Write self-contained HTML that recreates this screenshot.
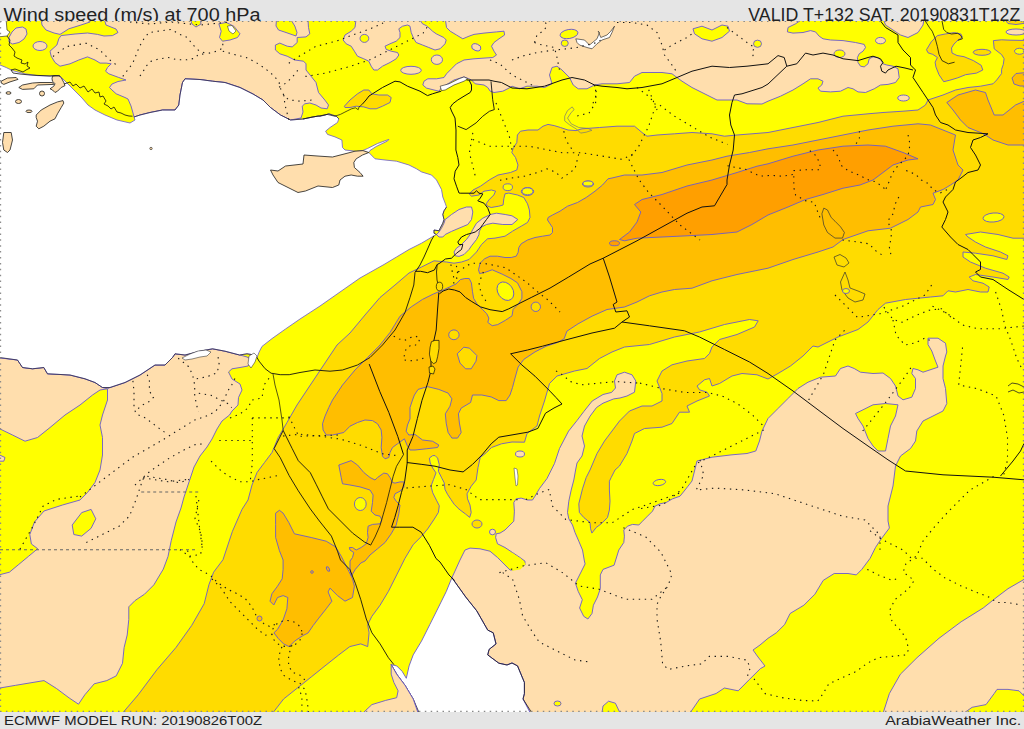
<!DOCTYPE html>
<html><head><meta charset="utf-8"><style>
html,body{margin:0;padding:0;background:#e5e5e5;}
body{width:1024px;height:729px;overflow:hidden;position:relative;font-family:"Liberation Sans",sans-serif;}
.t{position:absolute;color:#222;white-space:nowrap;}
svg{position:absolute;left:0;top:0;}
</style></head><body>
<svg width="1024" height="729" viewBox="0 0 1024 729">
<g font-family="Liberation Sans, sans-serif" fill="#222">
<text x="3.5" y="20.5" font-size="17.5" textLength="257" lengthAdjust="spacingAndGlyphs">Wind speed (m/s) at 700 hPa</text>
<text x="748.3" y="20.5" font-size="17.5" textLength="272" lengthAdjust="spacingAndGlyphs">VALID T+132 SAT. 20190831T12Z</text>
<text x="4" y="724.8" font-size="13.3" textLength="258" lengthAdjust="spacingAndGlyphs">ECMWF MODEL RUN: 20190826T00Z</text>
<text x="885.2" y="724.8" font-size="13.3" textLength="136" lengthAdjust="spacingAndGlyphs">ArabiaWeather Inc.</text>
</g>
<defs><clipPath id="m"><rect x="0" y="21" width="1024" height="691"/></clipPath></defs>
<g clip-path="url(#m)" stroke-linejoin="round">
<rect x="0" y="21" width="1024" height="691" fill="#ffff00"/>
<polygon points="104.0,18.0 276.6,18.0 276.0,26.0 278.5,30.0 286.0,32.5 296.0,36.0 297.0,32.5 294.8,26.0 289.8,18.0 307.9,18.0 308.5,27.5 309.8,33.8 306.0,36.9 297.2,37.5 297.2,42.5 292.2,46.9 287.2,46.2 279.8,43.1 275.4,45.0 275.4,50.0 279.8,53.8 287.2,56.2 294.8,60.0 303.5,61.2 306.0,63.8 306.0,70.0 311.0,76.2 316.0,82.5 318.5,92.5 324.8,100.0 328.5,105.0 327.2,108.8 321.0,108.0 316.0,105.0 309.8,103.0 304.8,103.8 302.2,106.2 303.0,112.0 301.0,118.0 290.5,120.0 280.5,115.0 270.5,107.5 263.0,100.0 253.0,94.0 240.0,87.5 225.0,82.5 212.5,81.2 200.0,79.5 185.0,78.8 182.5,82.5 180.0,95.0 178.8,105.0 175.0,110.0 162.5,110.0 150.0,112.5 140.0,115.0 134.0,117.0 133.0,113.0 131.0,106.0 128.0,99.0 125.0,97.5 116.2,93.8 112.0,90.0 109.5,87.5 112.0,84.0 118.0,81.5 126.0,80.0 118.8,77.5 108.8,73.8 105.6,71.2 107.5,67.5 111.2,63.8 106.2,63.1 100.0,63.1 95.0,60.0 87.5,56.9 78.8,60.0 70.0,63.8 60.0,66.2 55.0,62.5 51.2,56.2 50.0,51.2 56.9,45.0 58.8,38.8 61.0,35.6 75.0,34.0 87.5,33.0 97.5,34.4 104.0,36.0 112.5,35.6 118.0,32.5 116.0,29.0 106.0,25.0" fill="#ffdead" stroke="#6a5acd" stroke-width="0.9"/>
<polygon points="41.0,18.0 42.0,25.0 46.0,30.0 54.0,33.0 60.0,34.4 68.8,28.8 81.0,25.0 90.0,22.0 90.0,18.0" fill="#ffdead" stroke="#6a5acd" stroke-width="0.9"/>
<polygon points="12.0,32.0 16.0,28.0 22.5,27.0 26.0,29.0 27.0,34.0 24.0,39.0 19.0,42.5 12.5,44.0 9.0,42.0 9.0,37.5" fill="#ffdead" stroke="#6a5acd" stroke-width="0.9"/>
<ellipse cx="40" cy="46" rx="7" ry="4.5" fill="#ffdead" stroke="#6a5acd" stroke-width="0.9"/>
<polygon points="356.2,18.0 355.0,27.5 351.2,31.2 345.0,35.0 343.1,40.0 346.2,43.8 351.2,46.2 354.4,51.2 357.5,56.2 363.8,58.8 368.8,61.2 371.2,66.2 373.8,70.0 377.5,70.0 382.5,66.2 390.0,62.5 396.2,58.8 398.8,55.0 397.5,52.5 391.2,51.2 386.2,49.4 385.0,46.2 390.0,43.8 396.2,41.2 400.0,37.5 400.0,32.5 398.8,28.8 402.5,26.2 407.5,25.0 410.0,26.2 411.2,32.5 413.8,38.8 416.2,42.5 422.5,45.0 428.8,47.5 435.0,50.0 440.0,48.8 445.0,43.8 446.2,40.0 443.8,37.5 436.2,33.8 432.5,31.2 430.0,28.8 426.2,25.6 422.5,23.8 418.8,18.0" fill="#ffdead" stroke="#6a5acd" stroke-width="0.9"/>
<ellipse cx="364.4" cy="38.4" rx="4.4" ry="4" fill="#ffff00" stroke="#6a5acd" stroke-width="0.9"/>
<ellipse cx="436.9" cy="59.7" rx="5.6" ry="4.7" fill="#ffdead" stroke="#6a5acd" stroke-width="0.9"/>
<ellipse cx="411" cy="70.3" rx="10.3" ry="4" fill="#ffdead" stroke="#6a5acd" stroke-width="0.9"/>
<polygon points="445.2,18.0 446.5,27.5 450.2,31.2 456.5,35.0 462.8,38.8 469.0,36.2 474.0,34.4 484.0,33.1 496.5,31.9 504.0,31.2 504.6,35.0 499.0,38.8 494.0,42.5 491.5,46.2 494.0,51.2 496.5,55.0 492.8,57.5 484.0,58.1 474.0,58.8 464.0,60.0 456.5,63.8 451.5,68.8 446.5,73.8 444.0,77.5 436.5,78.8 427.8,78.8 424.0,81.2 422.8,85.0 426.5,88.1 434.0,90.0 439.0,91.2 441.5,87.5 444.0,86.2 454.0,80.0 464.0,76.9 469.0,78.8 471.5,80.0 475.2,83.8 484.0,85.0 487.8,87.5 490.2,91.2 494.0,92.5 502.8,91.2 509.0,88.1 512.0,86.2 519.5,88.8 527.0,86.2 537.0,86.2 544.5,87.5 552.0,83.8 549.5,75.0 552.0,67.5 557.0,66.2 562.0,70.0 569.5,77.5 573.2,85.0 578.2,88.8 587.0,88.8 594.5,85.0 602.0,83.8 617.0,83.8 629.5,82.5 634.5,76.2 642.0,72.5 662.0,72.5 672.0,73.8 682.0,81.2 692.0,87.5 707.0,95.0 717.0,100.0 727.0,100.0 737.0,100.0 747.0,103.8 762.0,104.0 768.0,101.2 780.5,96.2 793.0,90.0 803.0,83.8 810.5,78.8 818.0,78.8 823.0,81.2 821.8,85.0 818.0,88.1 820.5,91.2 830.5,91.9 840.5,91.2 848.0,87.5 853.0,88.8 858.0,91.9 865.5,92.5 874.2,88.8 880.5,85.0 888.0,84.4 895.5,82.5 899.2,77.5 898.0,68.8 893.0,66.2 886.8,65.0 883.0,63.8 881.8,61.2 878.0,57.5 873.0,56.9 869.2,58.8 868.0,63.8 864.2,66.9 860.5,66.2 858.0,62.5 857.4,57.5 859.2,53.8 863.0,51.2 865.5,47.5 864.2,44.4 855.5,42.5 843.0,40.6 830.5,40.0 823.0,38.8 819.2,36.2 815.5,31.9 810.5,30.6 803.0,32.5 793.0,33.1 787.4,31.9 788.0,27.5 795.5,23.8 804.2,18.0" fill="#ffdead" stroke="#6a5acd" stroke-width="0.9"/>
<ellipse cx="569" cy="34" rx="9" ry="4.5" fill="#ffff00" stroke="#6a5acd" stroke-width="0.9" transform="rotate(-10 569 34)"/>
<polygon points="693.0,28.8 702.0,26.2 712.0,30.0 722.0,25.0 728.0,26.2 729.5,31.2 722.0,37.5 712.0,41.2 702.0,38.8 694.5,33.8" fill="#ffff00" stroke="#6a5acd" stroke-width="0.9"/>
<ellipse cx="564.75" cy="43.25" rx="3.5" ry="3.2" fill="#ffff00" stroke="#6a5acd" stroke-width="0.9"/>
<ellipse cx="757.5" cy="43.75" rx="4" ry="3.6" fill="#ffff00" stroke="#6a5acd" stroke-width="0.9"/>
<ellipse cx="839.5" cy="53.75" rx="5.5" ry="3.75" fill="#ffff00" stroke="#6a5acd" stroke-width="0.9"/>
<ellipse cx="476.25" cy="47.3" rx="4.75" ry="3.3" fill="#ffdead" stroke="#6a5acd" stroke-width="0.9" transform="rotate(20 476.25 47.3)"/>
<ellipse cx="880.5" cy="40.6" rx="5" ry="3.2" fill="#ffdead" stroke="#6a5acd" stroke-width="0.9"/>
<polygon points="883.0,18.0 885.5,25.0 893.0,30.0 900.5,35.0 908.0,37.5 918.0,32.5 923.0,25.0 924.2,18.0" fill="#ffdead" stroke="#6a5acd" stroke-width="0.9"/>
<ellipse cx="1016" cy="32" rx="10" ry="3" fill="#ffdead" stroke="#6a5acd" stroke-width="0.9"/>
<polygon points="445.2,219.5 451.5,214.5 459.0,209.5 466.5,207.0 471.5,207.0 472.8,212.0 471.5,219.5 467.8,224.5 459.0,228.2 451.5,231.4 445.2,234.5 442.8,237.0 439.0,237.0 436.5,234.5 439.0,232.0 441.5,228.2 444.0,223.2" fill="#ffdead" stroke="#6a5acd" stroke-width="0.9"/>
<polygon points="490.2,214.5 496.5,213.2 505.2,214.5 512.0,215.8 517.8,219.5 512.0,224.5 502.8,224.5 492.8,223.2 486.5,224.5 481.5,227.0 479.0,232.0 479.0,234.5 476.5,239.5 471.5,245.8 469.0,249.5 464.0,254.5 459.0,256.4 455.2,255.8 454.0,252.0 456.5,248.2 461.5,244.5 466.5,239.5 470.2,234.5 472.8,229.5 476.5,223.2 482.8,218.2" fill="#ffdead" stroke="#6a5acd" stroke-width="0.9"/>
<polygon points="-3.0,357.5 17.5,360.0 22.5,367.5 32.5,368.8 43.8,367.5 47.5,373.8 70.0,375.0 85.0,378.8 95.0,382.5 102.5,387.5 107.5,388.8 100.0,390.0 92.5,395.0 80.0,405.0 65.0,415.0 50.0,427.5 37.5,437.5 25.0,441.2 12.5,435.0 -3.0,427.5" fill="#ffdead" stroke="#6a5acd" stroke-width="0.9"/>
<polygon points="-3.0,453.8 5.0,457.5 3.8,461.2 -3.0,461.2" fill="#ffdead" stroke="#6a5acd" stroke-width="0.9"/>
<polygon points="107.5,388.8 110.0,387.5 125.0,382.5 140.0,375.0 155.0,365.0 165.0,365.0 172.5,357.5 175.0,353.8 185.0,355.0 200.0,351.2 212.5,348.8 225.0,351.2 240.0,355.0 247.0,357.0 252.0,360.0 248.0,366.0 240.0,367.5 232.0,368.8 228.5,372.0 232.0,379.0 240.0,384.0 242.0,390.0 238.5,397.5 238.0,405.0 232.0,411.0 229.5,415.0 222.0,421.0 217.0,429.0 212.0,439.0 207.0,447.0 200.0,456.0 194.0,467.0 189.0,482.0 184.0,497.0 181.0,508.0 176.0,522.0 171.2,540.8 168.0,556.5 163.3,569.1 153.9,584.8 144.5,594.2 135.1,600.5 128.8,606.8 128.8,619.4 127.2,635.0 124.1,647.6 122.5,663.3 116.2,675.9 106.8,680.6 94.2,683.8 84.8,694.8 78.5,704.2 69.1,697.9 56.5,688.5 44.0,680.6 15.7,685.3 -3.0,688.5 -3.0,575.4 9.4,572.2 18.8,564.4 28.3,556.5 37.7,548.7 31.4,544.0 29.8,534.5 34.5,522.0 44.0,511.0 62.5,505.0 80.0,500.0 87.5,492.5 95.0,482.5 100.0,470.0 102.5,455.0 102.5,437.5 100.0,425.0 102.5,415.0 107.5,400.0" fill="#ffdead" stroke="#6a5acd" stroke-width="0.9"/>
<polygon points="72.2,525.0 81.7,512.6 91.1,509.4 95.8,518.8 91.1,528.3 81.7,536.1 73.8,534.5" fill="#ffff00" stroke="#6a5acd" stroke-width="0.9"/>
<polygon points="617.0,374.8 624.5,372.2 632.0,374.8 635.8,381.0 634.5,392.2 627.0,396.0 620.0,398.0 613.7,398.9 603.0,403.2 596.5,407.5 590.1,416.1 584.5,426.0 582.0,436.0 584.5,446.0 582.0,456.0 577.0,463.0 575.6,470.0 573.8,480.0 571.2,490.0 568.8,501.2 567.5,512.5 568.8,518.8 572.5,525.0 575.0,532.5 578.8,541.2 582.5,550.0 584.4,561.0 585.1,563.9 581.0,572.1 575.4,583.2 578.2,591.4 582.3,599.7 579.6,608.0 583.7,616.3 587.9,619.0 592.0,613.5 593.4,605.2 597.5,597.0 600.3,588.7 600.3,574.9 603.0,569.4 614.1,565.2 618.8,550.0 623.8,542.5 624.4,536.2 623.8,530.0 627.5,526.2 632.5,524.4 638.8,525.0 642.5,521.2 647.5,516.2 652.5,511.2 655.0,506.2 660.0,503.8 666.2,502.5 672.5,498.8 680.0,496.2 685.0,490.0 688.0,486.2 692.0,481.0 694.5,471.0 697.0,461.0 712.0,457.2 732.0,454.8 747.0,453.5 755.8,451.0 759.5,441.0 762.0,431.0 768.0,418.5 778.0,408.5 788.0,398.5 798.0,388.5 808.0,382.2 820.5,377.2 835.5,376.0 840.5,368.5 848.0,366.0 854.2,368.5 860.5,372.2 873.0,373.5 883.0,373.0 890.5,378.5 895.5,386.0 898.0,396.0 903.0,399.8 911.8,397.2 915.5,388.5 915.5,378.5 911.8,373.5 913.0,368.5 918.0,369.8 923.0,372.2 938.0,367.2 935.5,361.0 931.8,351.0 928.0,344.5 928.0,338.2 938.0,338.2 945.5,343.2 946.8,352.0 945.5,356.0 943.0,366.0 943.0,378.5 945.5,388.5 946.8,403.5 943.0,411.0 933.0,416.0 923.0,421.0 916.8,431.0 915.5,441.0 910.5,448.5 900.5,456.0 895.5,466.0 893.0,486.0 888.0,506.0 888.0,521.0 889.4,528.0 881.1,539.0 875.6,547.3 870.1,558.3 861.8,569.4 856.3,574.9 848.0,573.5 834.2,573.5 823.2,580.4 814.9,594.2 803.9,605.2 790.1,613.5 784.6,624.6 776.3,632.8 768.0,638.3 760.0,645.0 753.0,650.0 758.0,657.0 765.0,666.0 760.3,668.7 749.2,679.7 738.2,690.8 724.4,688.0 716.1,693.5 699.6,699.0 688.6,715.0 531.3,715.0 523.0,699.0 524.4,693.5 524.4,682.5 517.5,665.9 512.0,663.0 507.0,665.0 498.8,663.2 487.7,654.9 489.1,649.4 496.0,643.9 493.2,632.8 487.7,630.1 476.7,610.8 465.7,597.0 451.9,577.7 455.0,571.0 460.0,560.0 465.0,550.0 470.0,548.1 480.0,548.8 490.0,551.2 497.5,557.5 505.0,565.0 510.0,570.0 512.5,570.0 520.0,567.5 525.0,565.0 525.0,561.2 520.0,557.5 512.5,552.5 505.0,547.5 497.5,543.8 495.6,537.5 496.2,533.8 500.0,533.1 505.0,530.0 510.0,525.0 513.8,521.2 514.4,511.2 513.8,502.5 516.2,498.8 521.2,498.1 527.5,500.0 532.5,500.0 535.0,496.2 539.5,488.5 547.0,478.5 554.5,463.5 559.5,448.5 568.6,431.1 577.2,420.3 583.7,411.7 592.2,401.0 603.0,394.5 611.6,392.4 615.5,388.0 614.5,381.0" fill="#ffdead" stroke="#6a5acd" stroke-width="0.9"/>
<polygon points="855.5,413.5 863.0,409.8 873.0,404.8 885.5,403.5 898.0,404.8 895.5,416.0 890.5,426.0 888.0,438.5 885.5,451.0 878.0,451.0 873.0,446.0 868.0,438.5 863.0,426.0 858.0,418.5" fill="#ffff00" stroke="#6a5acd" stroke-width="0.9"/>
<ellipse cx="659.4" cy="482.5" rx="6.3" ry="3" fill="#ffff00" stroke="#6a5acd" stroke-width="0.9" transform="rotate(-10 659.4 482.5)"/>
<ellipse cx="492.5" cy="532" rx="3" ry="2.8" fill="#ffdead" stroke="#6a5acd" stroke-width="0.9"/>
<polygon points="882.5,715.0 889.4,693.5 900.4,674.2 917.0,657.7 939.0,638.3 961.1,621.8 983.2,608.0 997.0,597.0 1008.0,588.7 1027.0,577.7 1027.0,715.0" fill="#ffdead" stroke="#6a5acd" stroke-width="0.9"/>
<polygon points="961.1,715.0 972.1,707.3 986.0,704.6 994.2,693.5 997.0,689.4 1008.0,689.4 1019.0,690.8 1027.0,699.0 1027.0,715.0" fill="#ffff00" stroke="#6a5acd" stroke-width="0.9"/>
<polygon points="601.7,715.0 603.0,706.0 608.6,701.2 615.4,703.2 621.0,715.0" fill="#ffff00" stroke="#6a5acd" stroke-width="0.9"/>
<ellipse cx="557.5" cy="703.5" rx="3.5" ry="2.5" fill="#ffff00" stroke="#6a5acd" stroke-width="0.9"/>
<polygon points="512.0,552.8 520.3,558.3 525.8,563.9 520.3,569.4 512.0,570.8" fill="#ffff00" stroke="none" stroke-width="0"/>
<polygon points="-3.0,63.8 6.2,67.5 12.5,70.6 25.0,73.8 37.5,75.6 50.0,76.0 55.0,75.6 60.0,76.0 66.0,82.0 75.0,91.0 82.0,98.0 88.0,105.0 95.0,110.0 105.0,115.0 117.0,120.0 130.0,123.0 135.0,120.0 134.0,117.0 140.0,115.0 150.0,112.5 162.5,110.0 175.0,110.0 178.8,105.0 180.0,95.0 182.5,82.5 185.0,78.8 200.0,79.5 212.5,81.2 225.0,82.5 240.0,87.5 253.0,94.0 263.0,100.0 270.5,107.5 280.5,115.0 290.5,120.0 303.0,119.0 318.0,116.0 320.0,116.2 325.0,115.0 328.8,113.8 332.5,115.0 336.2,116.2 338.8,118.8 337.5,122.5 330.0,127.5 325.6,131.2 327.5,134.4 335.0,136.9 341.9,140.0 342.5,147.5 345.0,150.0 356.2,151.2 362.5,150.6 367.5,148.5 377.5,143.5 388.8,139.4 387.5,141.0 376.2,146.5 370.0,150.5 368.8,152.5 375.0,158.8 385.0,160.0 396.5,161.2 409.0,165.0 416.5,168.8 421.5,171.9 431.5,175.0 436.5,180.0 441.5,189.5 442.8,197.0 445.2,203.2 446.5,207.0 444.0,210.8 442.8,214.5 444.0,219.5 442.8,223.2 440.2,228.2 439.0,230.8 434.0,230.0 434.0,233.2 436.5,234.5 434.0,235.8 421.5,243.2 409.0,249.5 396.5,257.0 384.0,264.5 360.0,278.0 340.0,292.0 320.0,306.0 300.0,319.0 285.5,329.0 272.0,338.6 262.0,346.4 259.0,352.3 257.0,357.5 254.5,355.0 247.0,353.8 239.5,355.0 225.0,351.2 212.5,348.8 200.0,351.2 185.0,355.0 175.0,353.8 172.5,357.5 165.0,365.0 155.0,365.0 140.0,375.0 125.0,382.5 110.0,387.5 102.5,387.5 95.0,382.5 85.0,378.8 70.0,375.0 47.5,373.8 43.8,367.5 32.5,368.8 22.5,367.5 17.5,360.0 -3.0,357.5" fill="#ffffff" stroke="#6a5acd" stroke-width="0.8"/>
<polyline points="134.0,117.0 140.0,115.0 150.0,112.5 162.5,110.0 175.0,110.0 178.8,105.0 180.0,95.0 182.5,82.5 185.0,78.8 200.0,79.5 212.5,81.2 225.0,82.5 240.0,87.5 253.0,94.0 263.0,100.0 270.5,107.5 280.5,115.0 290.5,120.0 303.0,119.0 318.0,116.0 320.0,116.2 325.0,115.0 328.8,113.8 332.5,115.0 336.2,116.2 338.8,118.8" fill="none" stroke="#1a1a1a" stroke-width="0.6"/>
<polyline points="257.0,357.5 254.5,355.0 247.0,353.8 239.5,355.0 225.0,351.2 212.5,348.8 200.0,351.2 185.0,355.0 175.0,353.8 172.5,357.5 165.0,365.0 155.0,365.0 140.0,375.0 125.0,382.5 110.0,387.5 102.5,387.5 95.0,382.5 85.0,378.8 70.0,375.0 47.5,373.8 43.8,367.5 32.5,368.8 22.5,367.5 17.5,360.0 0.0,357.5" fill="none" stroke="#1a1a1a" stroke-width="0.6"/>
<polyline points="446.5,207.0 444.0,210.8 442.8,214.5 444.0,219.5 442.8,223.2 440.2,228.2 439.0,230.8 434.0,230.0 434.0,233.2 436.5,234.5" fill="none" stroke="#1a1a1a" stroke-width="0.6"/>
<polygon points="270.5,170.0 278.0,171.0 285.5,166.0 303.0,164.0 304.0,155.0 320.0,156.2 332.5,157.0 345.0,153.8 355.0,151.2 363.0,150.6 368.8,152.5 362.5,155.0 356.2,158.8 353.8,162.5 354.4,167.5 360.0,172.5 363.1,176.2 357.5,176.2 351.2,175.0 345.0,176.2 340.0,180.0 338.8,185.0 332.5,187.5 318.0,186.0 305.5,191.0 298.0,192.5 288.0,187.5 278.0,182.5 273.0,175.0" fill="#ffdead" stroke="#1a1a1a" stroke-width="0.8"/>
<polygon points="52.5,76.2 58.8,75.6 61.2,77.5 63.8,82.5 65.0,85.6 61.2,87.5 57.5,91.2 55.0,92.5 52.5,90.0 50.0,88.8 53.8,86.2 55.0,83.8 52.5,81.2 52.0,78.8" fill="#ffdead" stroke="#1a1a1a" stroke-width="0.8"/>
<polygon points="36.2,115.0 41.2,110.0 50.0,105.0 57.5,101.9 63.0,100.6 63.8,103.1 61.2,107.5 57.5,113.8 55.0,118.8 50.0,121.2 43.8,126.2 38.8,128.8 36.2,126.2 37.5,121.2 36.2,117.5" fill="#ffdead" stroke="#1a1a1a" stroke-width="0.8"/>
<polygon points="1.2,81.2 7.5,78.0 16.2,77.5 18.0,79.4 10.0,81.9 3.8,84.4 1.2,83.0" fill="#ffdead" stroke="#1a1a1a" stroke-width="0.8"/>
<polygon points="18.8,87.5 22.5,85.0 32.5,83.0 40.0,82.5 52.5,82.5 53.8,84.4 37.5,85.0 33.8,88.8 22.5,89.4" fill="#ffdead" stroke="#1a1a1a" stroke-width="0.8"/>
<ellipse cx="42" cy="93.5" rx="2.5" ry="2.5" fill="#ffdead" stroke="#1a1a1a" stroke-width="0.8"/>
<ellipse cx="8.5" cy="93" rx="2.5" ry="1.3" fill="#ffdead" stroke="#1a1a1a" stroke-width="0.8"/>
<ellipse cx="18.5" cy="101.5" rx="3" ry="2" fill="#ffdead" stroke="#1a1a1a" stroke-width="0.8"/>
<ellipse cx="29" cy="111.3" rx="3" ry="1.3" fill="#ffdead" stroke="#1a1a1a" stroke-width="0.8"/>
<polygon points="3.8,132.5 11.2,132.5 12.5,140.0 10.0,150.0 7.5,152.5 3.8,150.0 2.5,142.5" fill="#ffdead" stroke="#1a1a1a" stroke-width="0.8"/>
<ellipse cx="151" cy="148.5" rx="1.2" ry="1.2" fill="#ffdead" stroke="#1a1a1a" stroke-width="0.6"/>
<polygon points="-3.0,18.0 6.0,18.0 7.0,30.0 10.0,32.0 7.0,36.0 -3.0,37.0" fill="#ffffff" stroke="#1a1a1a" stroke-width="0.6"/>
<polygon points="451.9,577.7 446.3,591.4 438.1,608.0 429.8,624.6 421.5,641.1 413.2,654.9 409.1,665.9 406.3,678.3 402.2,671.4 396.7,665.9 391.2,664.6 396.7,674.2 405.0,685.3 413.2,699.0 418.8,715.0 531.3,715.0 523.0,699.0 524.4,693.5 524.4,682.5 517.5,665.9 512.0,663.0 507.0,665.0 498.8,663.2 487.7,654.9 489.1,649.4 496.0,643.9 493.2,632.8 487.7,630.1 476.7,610.8 465.7,597.0" fill="#ffffff" stroke="#6a5acd" stroke-width="0.9"/>
<polyline points="531.3,712.0 523.0,699.0 524.4,693.5 524.4,682.5 517.5,665.9 512.0,663.0 507.0,665.0 498.8,663.2 487.7,654.9 489.1,649.4 496.0,643.9 493.2,632.8 487.7,630.1 476.7,610.8 465.7,597.0 451.9,577.7" fill="none" stroke="#1a1a1a" stroke-width="0.8"/>
<polyline points="391.2,664.6 396.7,674.2 405.0,685.3 413.2,699.0 418.8,712.0" fill="none" stroke="#1a1a1a" stroke-width="0.8"/>
<polygon points="391.2,664.6 396.7,674.2 405.0,685.3 413.2,699.0 418.8,715.0 360.8,715.0 371.9,704.6 385.7,700.4 396.7,697.7 398.1,690.8 393.9,682.5 391.2,674.2" fill="#ffdead" stroke="#6a5acd" stroke-width="0.9"/>
<polygon points="575.8,38.8 584.5,40.0 589.5,45.0 597.0,38.8 599.5,32.5 598.2,31.2 600.8,37.5 607.0,35.0 610.8,31.2 614.5,26.2 612.0,32.5 609.5,37.5 602.0,40.0 597.0,43.8 592.0,48.8 587.0,47.5 579.5,45.0 577.0,42.5" fill="#ffffff" stroke="#1a1a1a" stroke-width="0.6"/>
<polygon points="440.2,86.2 449.0,83.8 459.0,78.8 464.0,76.9 467.8,78.8 464.0,81.2 454.0,85.0 445.2,90.0 441.5,90.6" fill="#ffffff" stroke="#1a1a1a" stroke-width="0.6"/>
<polygon points="1027.0,238.2 1027.0,238.2 1013.0,238.2 998.0,234.5 980.5,232.0 965.5,234.5 968.0,237.0 975.5,242.0 985.5,247.0 1000.5,252.0 1008.0,255.8 1006.8,259.5 993.0,255.8 975.5,253.2 963.0,252.0 963.0,257.0 970.5,262.0 985.5,268.2 1003.0,273.2 1009.2,277.0 1008.0,279.5 993.0,277.0 975.5,274.5 969.2,277.0 973.0,280.8 983.0,283.2 989.2,287.0 988.0,292.0 980.5,292.0 968.0,289.5 955.5,292.0 948.0,290.8 943.0,295.8 930.5,297.0 905.5,299.5 885.5,303.2 878.0,309.5 868.0,322.0 858.0,329.5 838.0,337.0 818.0,347.0 813.0,346.0 803.0,356.0 790.5,366.0 778.0,373.5 768.0,379.0 757.0,374.8 742.0,373.5 732.0,376.0 719.5,383.5 712.0,386.0 709.5,378.5 704.5,379.8 697.0,386.0 699.5,389.8 707.0,392.2 709.5,396.0 697.0,401.0 687.0,406.0 689.5,412.2 679.5,412.2 672.0,423.5 662.0,427.2 644.5,428.5 634.5,433.5 632.0,441.0 627.0,453.5 619.5,466.0 615.0,470.0 611.2,477.5 609.4,481.2 609.4,490.0 610.0,501.2 609.4,510.0 607.5,517.5 601.2,523.8 596.2,527.5 591.9,533.1 590.6,528.8 590.0,522.5 583.8,517.5 579.4,512.5 578.8,503.8 582.5,488.8 586.2,477.5 590.0,470.0 597.0,453.5 604.5,441.0 612.0,431.0 619.5,421.0 629.5,411.0 642.0,406.0 652.0,406.0 662.0,401.0 662.0,393.5 657.0,381.0 662.0,371.0 672.0,364.8 687.0,361.0 704.5,358.5 709.5,353.5 712.0,347.0 719.5,339.5 737.0,334.5 754.5,327.0 758.2,320.8 749.5,319.5 724.5,324.5 699.5,332.0 674.5,337.0 649.5,344.5 624.5,347.0 612.0,352.0 599.5,358.5 587.0,368.5 574.5,371.0 557.0,376.0 549.5,383.5 544.5,401.0 539.5,416.0 537.0,426.0 527.0,433.5 524.5,442.2 512.0,442.0 501.5,443.8 491.5,447.5 486.5,452.5 480.2,457.5 478.0,467.5 476.2,480.0 471.2,486.2 467.0,493.8 467.5,498.8 470.0,505.0 471.2,512.5 469.7,517.4 465.6,514.1 459.0,509.1 454.1,504.2 450.8,499.3 447.5,494.3 445.0,489.4 444.2,482.8 441.7,477.9 438.4,471.3 439.3,464.7 437.6,458.1 435.1,455.6 432.7,455.6 429.4,458.1 430.2,463.0 432.7,468.0 436.0,472.9 433.5,479.5 431.0,486.1 432.7,492.7 436.8,500.9 439.3,505.8 438.4,512.4 434.3,519.0 427.7,528.9 421.5,536.3 413.2,544.6 405.0,558.3 396.7,574.9 388.4,591.4 380.1,605.2 371.9,616.3 367.7,624.6 369.1,632.8 367.7,646.6 360.8,643.9 349.8,646.6 338.8,654.9 325.0,665.9 311.2,677.0 297.4,688.0 283.6,699.0 271.2,715.0 120.9,715.0 138.2,694.8 157.0,669.6 175.9,647.6 191.6,625.6 204.2,603.7 208.9,584.8 213.6,572.2 223.0,559.7 232.4,531.4 242.0,509.4 248.0,500.0 252.0,485.0 257.0,472.5 264.5,462.5 272.0,452.5 278.2,437.5 287.0,422.5 297.0,405.0 307.0,390.0 317.0,375.0 327.0,360.0 337.0,345.0 350.0,333.0 365.0,315.0 380.0,297.5 395.0,285.0 409.0,273.0 421.5,267.0 434.0,260.8 446.5,262.0 454.0,263.2 461.5,262.0 469.0,259.5 476.5,252.0 481.5,244.5 487.5,238.8 495.0,238.1 505.0,236.2 512.5,231.2 521.2,226.2 527.5,222.5 530.0,217.5 529.4,210.0 527.5,203.8 523.8,197.5 517.5,195.0 508.8,193.1 505.0,193.8 503.8,198.8 503.1,205.0 498.8,206.2 491.2,207.5 487.5,206.2 486.2,203.8 488.8,200.0 493.8,195.0 495.6,191.2 491.5,190.0 484.0,191.2 479.0,195.0 471.5,196.2 469.2,194.0 473.0,190.0 480.5,186.2 489.2,180.0 498.0,175.0 510.5,172.5 516.8,170.0 518.0,165.0 515.5,157.5 511.8,152.5 513.0,148.8 516.8,142.5 517.4,135.0 520.5,131.2 528.0,130.0 538.0,130.0 543.0,126.2 548.0,124.4 554.2,125.6 560.5,127.5 568.0,130.0 576.0,130.6 582.0,128.8 599.5,127.5 617.0,126.2 634.5,126.2 642.0,132.5 647.0,136.2 657.0,135.0 674.5,133.8 692.0,132.5 712.0,133.8 724.5,136.2 737.0,135.0 752.0,133.8 768.0,132.5 793.0,127.5 818.0,122.5 843.0,116.2 868.0,113.8 883.0,112.5 903.0,111.2 918.0,110.0 925.5,105.0 928.0,100.0 943.0,95.0 955.5,90.0 968.0,87.5 980.5,86.2 993.0,83.8 996.7,80.0 1001.6,73.5 1001.6,69.4 1003.3,64.4 1004.1,58.7 1001.6,54.6 994.2,48.8 993.4,40.6 1001.6,39.8 1010.0,40.2 1027.0,40.5" fill="#ffdc00" stroke="#6a5acd" stroke-width="0.9"/>
<ellipse cx="507.8" cy="187.2" rx="4.7" ry="3.4" fill="#ffff00" stroke="#6a5acd" stroke-width="0.9"/>
<ellipse cx="527.5" cy="191.5" rx="6.2" ry="4" fill="#ffff00" stroke="#6a5acd" stroke-width="0.9"/>
<ellipse cx="588" cy="184" rx="5.6" ry="3" fill="#ffff00" stroke="#6a5acd" stroke-width="0.9"/>
<ellipse cx="527.5" cy="191.3" rx="5.5" ry="3.5" fill="#ffff00" stroke="#6a5acd" stroke-width="0.9"/>
<ellipse cx="993.5" cy="217.5" rx="10.5" ry="4.5" fill="#ffff00" stroke="#6a5acd" stroke-width="0.9" transform="rotate(-5 993.5 217.5)"/>
<ellipse cx="360.3" cy="504" rx="5.9" ry="6.5" fill="#ffff00" stroke="#6a5acd" stroke-width="0.9"/>
<ellipse cx="588" cy="183.5" rx="5" ry="2.5" fill="#ffff00" stroke="#6a5acd" stroke-width="0.9"/>
<ellipse cx="537.5" cy="307.5" rx="4.5" ry="4.5" fill="#ffff00" stroke="#6a5acd" stroke-width="0.9"/>
<polygon points="344.4,106.2 350.0,100.0 357.5,93.8 363.8,90.0 368.8,90.0 371.9,93.8 378.8,95.0 387.5,95.0 391.2,97.5 390.0,102.5 382.5,106.2 376.2,108.8 370.0,108.8 363.8,106.9 356.2,106.2 350.0,107.5 345.0,107.5" fill="#ffdc00" stroke="#6a5acd" stroke-width="0.9"/>
<polygon points="931.2,41.9 937.4,35.6 945.2,34.0 954.6,32.5 960.9,34.0 962.4,37.2 957.8,40.3 954.0,44.0 951.5,48.0 952.0,53.0 957.0,55.5 964.0,56.7 973.4,60.6 981.2,65.3 982.8,70.0 976.5,73.1 965.6,74.7 957.8,77.8 949.9,80.2 943.7,81.7 939.0,74.7 935.9,66.9 935.1,62.2 937.4,57.5 932.8,54.4 928.0,52.8 926.5,49.7" fill="#ffdc00" stroke="#6a5acd" stroke-width="0.9"/>
<ellipse cx="903.5" cy="98" rx="5.8" ry="3" fill="#ffdead" stroke="#6a5acd" stroke-width="0.9"/>
<ellipse cx="982" cy="52.3" rx="8.8" ry="3" fill="#ffdc00" stroke="#6a5acd" stroke-width="0.9"/>
<ellipse cx="1019.5" cy="51.25" rx="5" ry="3" fill="#ffff00" stroke="#6a5acd" stroke-width="0.9"/>
<ellipse cx="477" cy="524" rx="5" ry="4" fill="#ffdc00" stroke="#6a5acd" stroke-width="0.9"/>
<polygon points="464.8,278.5 460.4,279.6 456.0,284.0 443.1,290.0 433.8,293.8 422.5,299.4 411.2,306.9 400.0,316.2 390.0,332.5 380.0,345.0 367.5,357.5 355.0,370.0 342.5,385.0 332.5,400.0 328.8,407.5 325.0,416.2 322.5,423.8 323.1,430.0 326.2,435.0 332.5,435.0 343.8,432.5 350.0,426.2 357.5,422.5 365.0,420.0 372.5,420.6 377.5,423.8 381.2,430.0 381.9,437.5 381.2,447.5 382.5,456.2 385.0,458.8 388.8,457.5 390.0,452.5 392.5,447.5 397.5,443.8 404.4,438.8 407.5,446.2 410.0,450.0 415.0,450.0 426.2,448.8 437.5,447.5 438.8,445.0 432.5,441.2 422.5,440.0 417.5,436.2 415.0,434.4 408.8,435.0 406.2,431.2 407.5,425.0 410.0,418.8 410.0,407.5 412.5,400.0 414.4,395.0 418.1,389.4 427.5,386.6 438.8,389.4 448.1,393.1 451.9,398.8 450.0,406.2 445.3,413.8 446.2,423.1 448.1,432.5 451.9,438.1 457.5,438.1 461.2,432.5 459.4,423.1 458.4,413.8 461.2,408.1 470.6,402.5 472.5,395.0 481.9,395.0 491.2,396.9 498.8,400.6 506.2,400.6 510.0,395.0 512.5,387.5 515.0,378.0 518.1,367.0 523.8,359.4 535.0,351.9 546.2,346.2 557.5,342.5 564.1,338.8 566.9,331.2 578.1,323.8 592.0,316.2 607.0,309.5 624.5,307.0 637.0,302.0 649.5,295.8 662.0,292.0 674.5,289.5 692.0,288.2 712.0,280.8 737.0,274.5 768.0,268.2 793.0,259.5 818.0,252.0 833.0,247.0 843.0,239.5 868.0,230.8 890.5,228.2 908.0,219.5 918.0,212.0 920.5,207.0 933.0,204.5 935.5,199.5 933.0,193.2 943.0,189.5 950.5,185.0 958.0,180.0 963.0,170.0 958.0,165.0 953.0,150.0 955.5,135.0 943.0,130.0 930.5,125.0 918.0,123.8 893.0,126.2 868.0,130.0 843.0,135.0 818.0,140.0 793.0,145.0 768.0,148.8 749.5,152.5 727.0,156.2 712.0,160.0 687.0,165.0 662.0,172.5 642.0,175.0 624.5,175.0 612.0,178.0 608.0,178.8 602.5,185.0 595.0,191.2 586.2,197.5 577.5,202.5 567.5,206.2 560.0,211.2 552.5,215.0 548.1,217.5 547.5,220.0 550.0,223.8 552.5,227.5 552.5,232.5 550.0,235.0 542.5,236.2 535.0,237.5 527.5,240.0 521.2,243.8 518.8,247.5 518.1,252.5 516.2,256.2 511.2,257.5 505.0,257.5 497.5,256.2 490.0,256.2 484.5,258.8 480.1,263.2 478.5,269.8 479.6,273.6 484.5,272.5 492.2,269.8 502.1,274.1 510.9,278.5 517.5,282.9 521.9,291.7 521.9,298.3 518.6,303.8 513.1,309.3 512.0,315.9 505.4,320.3 497.7,324.6 492.2,325.7 487.8,322.4 488.9,318.1 486.7,313.7 482.3,309.3 476.9,303.8 473.6,298.3 472.5,291.7 471.4,282.9 469.2,278.5" fill="#ffbe00" stroke="#6a5acd" stroke-width="0.9"/>
<ellipse cx="505.4" cy="291.2" rx="7.5" ry="10" fill="#ffff00" stroke="#6a5acd" stroke-width="0.9" transform="rotate(-35 505.4 291.2)"/>
<ellipse cx="535.8" cy="306.8" rx="4.7" ry="4.7" fill="#ffdc00" stroke="#6a5acd" stroke-width="0.9"/>
<ellipse cx="453.9" cy="334.8" rx="5.2" ry="4.9" fill="#ffdc00" stroke="#6a5acd" stroke-width="0.9"/>
<polygon points="457.2,353.8 463.8,347.2 469.4,348.1 476.9,355.6 476.0,361.2 471.2,368.8 465.6,368.8 460.0,363.1" fill="#ffdc00" stroke="#6a5acd" stroke-width="0.9"/>
<polygon points="946.8,102.5 958.0,95.0 975.5,90.0 985.5,92.5 988.0,100.0 994.2,115.0 1003.0,115.0 1015.5,105.0 1027.0,100.0 1027.0,145.0 1008.0,145.0 993.0,140.0 985.5,135.0 980.5,132.5 968.0,127.5 960.5,120.0 953.0,110.0" fill="#ffbe00" stroke="#6a5acd" stroke-width="0.9"/>
<polygon points="1027.0,72.5 1016.0,73.5 1012.0,78.0 1014.0,84.0 1020.0,86.0 1027.0,86.0" fill="#ffbe00" stroke="#6a5acd" stroke-width="0.9"/>
<polygon points="338.8,465.0 351.2,460.6 357.5,465.0 363.8,472.5 370.0,477.5 375.0,480.0 377.5,477.5 383.8,473.1 387.5,473.8 390.0,477.5 392.5,482.5 395.0,483.1 400.0,481.9 404.4,481.9 403.8,487.5 400.0,491.2 395.0,493.8 393.8,497.5 396.2,501.2 400.0,505.0 398.8,513.8 396.2,525.0 391.2,533.8 385.0,542.5 377.5,548.8 370.0,555.0 365.0,561.0 360.8,563.0 355.3,569.4 351.2,576.3 350.0,568.0 350.0,561.0 352.5,557.5 353.8,552.5 350.0,550.0 349.4,547.5 352.5,547.5 356.2,550.0 361.2,547.5 366.2,543.8 368.1,537.5 367.5,532.5 368.1,526.2 372.5,524.4 380.0,523.8 381.9,520.0 380.0,516.2 375.0,515.0 371.2,511.2 372.5,502.5 373.1,495.0 370.0,490.0 360.0,486.9 350.0,485.0 342.5,483.8 341.2,477.5" fill="#ffbe00" stroke="#6a5acd" stroke-width="0.9"/>
<polygon points="275.6,524.4 275.6,513.1 279.4,510.3 283.1,513.1 288.8,522.5 294.4,533.8 311.2,537.5 326.2,541.2 335.6,546.9 341.2,556.2 348.8,571.2 352.5,578.8 354.4,586.2 352.5,597.5 345.0,601.2 337.5,595.6 330.0,588.1 328.1,591.9 331.9,601.2 326.2,608.8 318.8,618.1 313.1,625.6 308.0,633.0 302.9,635.6 294.6,641.1 289.1,646.6 283.6,643.9 278.1,638.3 273.9,632.8 277.5,629.4 283.1,620.0 286.9,608.8 287.8,597.5 283.1,595.6 277.5,597.5 273.8,605.0 270.0,601.2 271.9,593.8 277.5,586.2 282.2,578.8 283.1,569.4 283.1,560.0 279.4,550.6 275.6,537.5" fill="#ffbe00" stroke="#6a5acd" stroke-width="0.9"/>
<ellipse cx="312" cy="572" rx="1.3" ry="1.3" fill="#ffbe00" stroke="#6a5acd" stroke-width="0.9"/>
<ellipse cx="328" cy="569" rx="1.2" ry="2.5" fill="#ffbe00" stroke="#6a5acd" stroke-width="0.9" transform="rotate(-30 328 569)"/>
<polygon points="619.5,239.5 629.5,232.0 637.0,222.0 640.8,212.0 634.5,204.5 642.0,199.5 662.0,194.5 687.0,186.0 712.0,180.0 737.0,172.5 757.0,166.2 768.0,163.8 793.0,156.2 818.0,150.0 843.0,146.2 868.0,145.0 885.5,146.2 903.0,152.5 918.0,158.8 908.0,160.0 893.0,165.0 883.0,172.5 873.0,180.0 860.0,185.0 843.0,188.2 823.0,194.5 805.5,199.5 788.0,207.0 768.0,215.0 752.0,224.5 737.0,232.0 712.0,234.5 687.0,235.8 662.0,237.0 637.0,238.2 624.5,240.8" fill="#ff9f00" stroke="#6a5acd" stroke-width="0.9"/>
<ellipse cx="614.5" cy="243.25" rx="5" ry="2.5" fill="#ff9f00" stroke="#6a5acd" stroke-width="0.9"/>
<polyline points="362.0,104.5 366.0,100.0 369.0,96.0 372.5,93.8 382.5,87.5 395.0,81.2 400.0,81.9 407.5,86.2 420.0,91.2 427.5,95.6 432.5,93.8 441.2,91.2" fill="none" stroke="#111" stroke-width="1.0"/>
<polyline points="469.0,80.0 471.5,85.0 471.5,90.0 470.2,92.5 464.0,96.2 457.8,100.0 452.8,103.8 450.2,107.5 451.5,111.0 455.0,118.0 456.0,130.0 455.9,150.0 457.8,157.5 459.0,165.0 455.2,171.2 454.0,178.8 456.5,186.2 459.0,193.0" fill="none" stroke="#111" stroke-width="1.0"/>
<polyline points="466.5,80.0 471.5,80.0 489.0,80.0 494.0,81.2 501.5,82.5 512.0,88.0 527.0,88.8 544.5,86.2 562.0,80.0 572.0,77.5 584.5,80.0 594.5,85.0 602.0,86.2 617.0,87.5 627.0,88.8 642.0,87.5 662.0,83.8 677.0,77.5 692.0,71.2 712.0,66.2 729.5,67.5 747.0,66.2 768.0,63.8 778.0,55.6 784.2,57.5 786.8,66.2 796.8,63.8 805.5,53.1 813.0,55.0 823.0,53.1 833.0,55.0 843.0,58.8 858.0,60.6 868.0,57.5 873.0,56.2 880.5,58.8 883.0,62.5 880.5,66.2 881.8,71.2 885.5,73.1 888.0,70.0 896.0,66.2 905.0,68.0 913.0,70.0" fill="none" stroke="#111" stroke-width="1.0"/>
<polyline points="786.8,66.2 768.0,84.0 762.0,87.5 742.0,93.8 734.5,95.0 732.0,102.5 729.5,115.0 730.8,125.0 734.5,135.0 733.2,150.0 729.5,165.0 727.0,180.0 727.0,184.5 714.5,205.8 702.0,207.0 687.0,213.2 662.0,227.0 637.0,240.8 603.2,258.2 590.0,264.0 568.8,276.9 550.0,288.1 531.2,297.5 520.0,303.1 508.8,308.8 502.2,311.6 490.0,309.7 480.6,306.9 471.2,301.2 465.6,297.5 460.0,291.9 454.4,290.0 448.8,289.0 443.1,291.0 439.4,293.8" fill="none" stroke="#111" stroke-width="1.0"/>
<polyline points="603.2,258.2 609.5,277.0 617.0,302.0 613.2,304.5 615.8,312.0 627.0,310.8 629.5,317.0 622.0,322.0 614.5,328.2 592.0,333.0 563.1,340.6 542.5,346.2 527.5,350.0 510.6,353.8 521.9,365.0 535.0,376.2 550.0,391.2 556.0,397.5 562.0,404.0 554.0,408.0 545.5,413.2 537.9,428.4 527.8,432.2 498.8,437.2 491.2,443.8 481.9,455.0 472.5,464.4 463.1,471.9 450.0,470.0 435.0,466.2 421.9,464.4 406.9,462.5" fill="none" stroke="#111" stroke-width="1.0"/>
<polyline points="622.0,322.0 649.5,325.8 684.5,330.8 699.5,337.0 724.5,349.5 749.5,362.0 768.0,373.5 793.0,391.0 818.0,409.8 843.0,428.5 868.0,446.0 888.0,459.8 905.5,471.0 943.0,474.8 993.0,477.2 1024.0,479.8" fill="none" stroke="#111" stroke-width="1.0"/>
<polyline points="1000.5,476.0 1013.0,461.0 1020.5,451.0 1024.0,443.5" fill="none" stroke="#111" stroke-width="1.0"/>
<polyline points="880.5,21.0 885.5,27.5 898.0,35.0 898.0,42.5 903.0,50.0 910.5,57.5 910.5,65.0 915.5,70.0 913.0,77.5 918.0,85.0 923.0,92.5 928.0,100.0 933.0,107.5 935.5,115.0 940.5,122.5 948.0,125.0 955.5,130.0 968.0,132.5 988.0,133.8 980.5,137.5 973.0,140.0 970.5,147.5 975.5,155.0 980.5,165.0 978.0,170.0 968.0,172.5 961.0,178.0 955.5,182.0 953.0,189.5 945.5,197.0 943.0,202.0 948.0,212.0 945.5,219.5 941.8,227.0 950.5,237.0 958.0,244.5 968.0,249.5 973.0,254.5 980.5,262.0 980.5,269.5 975.5,272.0 980.5,277.0 993.0,279.5 1008.0,289.5 1024.0,299.5" fill="none" stroke="#111" stroke-width="1.0"/>
<polyline points="459.0,193.0 460.2,193.2 474.0,193.2 476.5,190.8 479.0,193.2 482.8,193.9 480.2,198.2 477.8,200.8 484.0,203.2 487.8,208.2 490.2,214.5 486.5,219.5 482.8,224.5 480.2,228.2 475.2,232.0 471.5,233.2 466.5,234.5 461.5,237.0 457.8,242.0 459.0,244.5 462.8,244.5 461.5,249.5 456.5,253.2 451.5,258.2 445.4,259.0 439.9,263.1 437.2,264.5 434.4,270.0 427.5,272.7 420.7,271.3 415.2,271.3" fill="none" stroke="#111" stroke-width="1.0"/>
<polyline points="437.2,264.5 436.5,272.0 437.0,280.0 438.0,284.0" fill="none" stroke="#111" stroke-width="0.8"/>
<polyline points="434.0,235.8 431.5,240.0 428.0,248.0 424.0,257.0 420.0,265.0 415.0,272.5 413.8,285.0 410.0,297.5 405.0,312.5 395.0,330.0 382.5,345.0 370.0,357.5 357.5,365.0 342.5,370.0 330.0,371.2 315.0,370.0 300.0,372.5 289.2,374.7 280.2,374.7 271.1,373.2 265.1,368.7 259.0,361.1 257.0,357.5" fill="none" stroke="#111" stroke-width="0.9"/>
<polyline points="369.2,364.1 379.7,391.3 388.8,412.4 397.8,436.5 403.5,454.6" fill="none" stroke="#111" stroke-width="1.0"/>
<polyline points="438.8,292.5 437.5,310.0 436.2,330.0 434.0,340.0 431.0,355.1 431.0,370.2 428.0,382.2 422.0,400.3 417.4,418.4 412.9,436.5 407.2,450.0 407.2,463.0 404.7,481.2 401.4,492.7 398.1,505.8 394.8,517.4 391.5,527.2 399.8,527.2 412.9,527.2 421.2,532.2 429.4,545.3 436.0,558.5 440.0,562.0 449.0,575.0 454.6,580.4" fill="none" stroke="#111" stroke-width="1.0"/>
<polyline points="403.5,454.6 396.5,466.3 393.2,476.2 389.9,489.4 386.6,502.6 383.3,514.1 380.0,525.6 375.0,537.0 370.7,545.1" fill="none" stroke="#111" stroke-width="0.8"/>
<polyline points="283.2,430.5 274.1,448.6 280.2,457.6 289.2,475.7 298.3,490.8 310.3,508.9 319.4,521.0 331.4,536.1 337.5,551.2 340.5,560.0 349.8,569.4 355.3,583.2 360.8,599.7 366.3,619.0 371.9,632.8 380.1,643.9 388.4,657.7 393.9,664.6" fill="none" stroke="#111" stroke-width="0.9"/>
<polyline points="283.2,430.5 292.2,448.6 298.3,460.7 310.3,472.7 316.4,484.8 322.4,496.9 328.4,508.9 340.5,521.0 352.6,533.1 364.6,542.1 370.7,545.1" fill="none" stroke="#111" stroke-width="0.9"/>
<polyline points="283.2,430.5 282.0,420.0 279.0,400.0 275.0,385.0 273.0,374.0" fill="none" stroke="#111" stroke-width="0.7"/>
<polyline points="7.0,36.0 10.0,40.0 9.0,45.0 12.0,48.0 15.0,52.0 14.0,56.0 17.0,58.0 22.0,60.0 21.0,63.0 25.0,64.0 28.0,62.0 27.0,66.0 30.0,68.0 26.0,70.0 23.0,72.0 15.0,69.0 11.0,70.0 13.0,73.0 20.0,74.0 30.0,75.0 40.0,75.5 50.0,76.0 55.0,75.6 60.0,76.0" fill="none" stroke="#111" stroke-width="0.8"/>
<polyline points="64.0,84.0 70.0,82.0 73.0,86.0 76.0,84.0 80.0,88.0 84.0,86.0 88.0,92.0 92.0,89.0 95.0,93.0 99.0,92.0 100.0,97.0 103.0,96.0 106.0,101.0 104.0,104.0 108.0,106.0 111.0,109.0 114.0,107.0 117.0,112.0 121.0,113.0 125.0,115.0 129.0,116.0 132.5,116.2" fill="none" stroke="#111" stroke-width="0.8"/>
<polyline points="303.0,119.0 312.0,117.0 318.0,116.2 327.2,114.4 334.8,116.2 340.4,114.4 344.1,112.5 347.9,110.6 351.6,108.8 355.4,107.8 358.2,109.7 359.1,106.9 362.0,104.5" fill="none" stroke="#111" stroke-width="0.7"/>
<polygon points="431.4,341.7 434.9,340.4 439.0,340.4 439.0,348.6 437.6,356.8 436.2,362.3 433.5,363.7 430.8,360.9 429.4,354.1 430.1,347.2" fill="#ffdc00" stroke="#111" stroke-width="0.7"/>
<polygon points="429.0,367.0 433.0,366.0 435.0,369.0 433.5,374.0 429.5,373.0" fill="#ffdc00" stroke="#111" stroke-width="0.7"/>
<ellipse cx="439.5" cy="286.5" rx="3.2" ry="4.3" fill="#ffdc00" stroke="#111" stroke-width="0.7"/>
<polyline points="491.0,81.4 492.7,99.7 494.3,109.6 489.4,111.3 482.7,116.3 476.1,122.9 466.1,129.6 457.8,126.2" fill="none" stroke="#111" stroke-width="0.9"/>
<polygon points="218.8,23.8 226.2,22.5 233.8,26.2 240.0,33.8 237.5,37.5 230.0,40.0 222.5,41.2 219.5,37.5 221.2,31.2" fill="#ffff00" stroke="#6a5acd" stroke-width="0.9"/>
<polygon points="227.5,26.0 232.0,25.5 236.0,31.0 233.0,34.0 229.0,31.0" fill="#ffffff" stroke="#1a1a1a" stroke-width="0.5"/>
<polygon points="190.0,18.0 200.0,18.0 201.0,24.0 196.0,27.0 192.0,24.0" fill="#ffff00" stroke="#6a5acd" stroke-width="0.9"/>
<polyline points="53.0,56.5 66.4,46.6 86.3,43.2 99.6,49.9 109.6,59.8 116.2,64.8" fill="none" stroke="#1a1a1a" stroke-width="1.1" stroke-dasharray="1.4,4.6"/>
<polyline points="288.8,63.2 298.8,56.5 315.4,46.6 340.0,40.0 349.9,36.0 369.8,29.0 383.1,23.0" fill="none" stroke="#1a1a1a" stroke-width="1.1" stroke-dasharray="1.4,4.6"/>
<polyline points="305.4,76.4 325.4,73.1 349.9,66.5 369.8,59.8 383.1,53.2 396.4,46.6 409.7,39.9 423.0,33.3 429.6,23.3" fill="none" stroke="#1a1a1a" stroke-width="1.1" stroke-dasharray="1.4,4.6"/>
<polyline points="130.0,22.0 150.0,24.0 170.0,22.0 200.0,25.0 230.0,22.0" fill="none" stroke="#1a1a1a" stroke-width="1.1" stroke-dasharray="1.4,4.6"/>
<polyline points="496.0,103.0 502.6,119.6 509.3,136.2 512.6,152.8" fill="none" stroke="#1a1a1a" stroke-width="1.1" stroke-dasharray="1.4,4.6"/>
<polyline points="472.8,139.5 489.4,146.2 509.3,146.2 529.2,146.2 545.8,149.5 562.4,152.8 582.3,152.8 602.2,156.1 622.2,159.4 635.4,152.8" fill="none" stroke="#1a1a1a" stroke-width="1.1" stroke-dasharray="1.4,4.6"/>
<polyline points="472.8,132.9 469.4,152.8 472.8,166.1 476.1,179.4" fill="none" stroke="#1a1a1a" stroke-width="1.1" stroke-dasharray="1.4,4.6"/>
<polyline points="595.6,89.7 595.6,103.0 589.0,113.0 575.7,116.3" fill="none" stroke="#1a1a1a" stroke-width="1.1" stroke-dasharray="1.4,4.6"/>
<polyline points="648.7,89.7 655.4,106.3 648.7,126.2 638.8,146.2 628.8,159.4 638.8,179.4 648.7,192.6 662.0,206.0 680.0,225.0 700.0,240.0" fill="none" stroke="#1a1a1a" stroke-width="1.1" stroke-dasharray="1.4,4.6"/>
<polyline points="660.0,105.3 674.2,116.0 692.0,126.6 709.8,137.3 727.5,144.4" fill="none" stroke="#1a1a1a" stroke-width="1.1" stroke-dasharray="1.4,4.6"/>
<polyline points="727.5,165.8 745.3,169.3 760.0,176.2 771.2,175.3 782.5,176.2 793.8,174.4 793.8,170.6 806.9,169.7 820.0,169.7 820.0,163.1 814.4,153.8 808.8,150.0" fill="none" stroke="#1a1a1a" stroke-width="1.1" stroke-dasharray="1.4,4.6"/>
<polyline points="793.8,176.2 793.8,187.5 795.6,195.0 805.0,200.6 814.4,202.5 816.2,208.1 820.0,217.5" fill="none" stroke="#1a1a1a" stroke-width="1.1" stroke-dasharray="1.4,4.6"/>
<polyline points="833.1,150.0 838.8,157.5 840.6,165.0 848.1,170.6 857.5,174.4 868.8,180.0 876.2,181.9 885.6,189.4" fill="none" stroke="#1a1a1a" stroke-width="1.1" stroke-dasharray="1.4,4.6"/>
<polyline points="908.1,135.0 910.0,144.4 908.1,155.6 902.5,161.2 895.0,168.8 891.2,176.2 887.5,185.6 885.6,189.4" fill="none" stroke="#1a1a1a" stroke-width="1.1" stroke-dasharray="1.4,4.6"/>
<polyline points="859.4,131.2 859.4,138.8 855.6,144.4" fill="none" stroke="#1a1a1a" stroke-width="1.1" stroke-dasharray="1.4,4.6"/>
<polyline points="898.8,196.9 895.0,204.4 893.1,213.8 887.5,221.2 891.2,228.8 891.2,236.2 889.4,247.5 891.2,256.0" fill="none" stroke="#1a1a1a" stroke-width="1.1" stroke-dasharray="1.4,4.6"/>
<polyline points="906.2,170.6 915.6,174.4 921.2,180.0 928.8,183.8 932.5,189.4 940.0,193.1 947.5,189.4" fill="none" stroke="#1a1a1a" stroke-width="1.1" stroke-dasharray="1.4,4.6"/>
<polyline points="842.5,240.0 857.5,241.9 868.8,243.8 876.2,251.2 883.8,256.0" fill="none" stroke="#1a1a1a" stroke-width="1.1" stroke-dasharray="1.4,4.6"/>
<polyline points="835.0,295.0 857.5,317.5 880.0,313.7 902.5,306.2 925.0,295.0 932.5,283.7" fill="none" stroke="#1a1a1a" stroke-width="1.1" stroke-dasharray="1.4,4.6"/>
<polyline points="932.5,306.2 947.5,313.7 962.5,325.0 977.5,328.7 1000.0,328.7 1024.0,326.0" fill="none" stroke="#1a1a1a" stroke-width="1.1" stroke-dasharray="1.4,4.6"/>
<polyline points="962.5,347.5 958.7,385.0 977.5,388.7 996.2,396.2 1003.7,415.0 1007.5,437.5 1007.5,460.0 1003.7,475.0" fill="none" stroke="#1a1a1a" stroke-width="1.1" stroke-dasharray="1.4,4.6"/>
<polyline points="808.7,400.0 823.7,373.7 835.0,340.0 846.2,328.7" fill="none" stroke="#1a1a1a" stroke-width="1.1" stroke-dasharray="1.4,4.6"/>
<polyline points="640.0,383.1 662.5,388.7 685.0,392.5 707.5,392.5 722.5,396.2 737.5,403.7 752.5,415.0 763.7,426.2" fill="none" stroke="#1a1a1a" stroke-width="1.1" stroke-dasharray="1.4,4.6"/>
<polyline points="763.7,430.0 741.2,441.2 718.7,452.5 696.2,463.7 681.2,490.0 662.5,505.0 640.0,508.7" fill="none" stroke="#1a1a1a" stroke-width="1.1" stroke-dasharray="1.4,4.6"/>
<polyline points="700.0,460.0 703.7,475.0 696.2,490.0 715.0,488.1 745.0,490.0 775.0,493.7 797.5,501.2 820.0,508.7 842.5,516.2 865.0,520.0 880.0,535.0 880.0,553.0" fill="none" stroke="#1a1a1a" stroke-width="1.1" stroke-dasharray="1.4,4.6"/>
<polyline points="0.0,549.8 195.0,549.8" fill="none" stroke="#666" stroke-width="1.1" stroke-dasharray="3,3"/>
<polyline points="198.8,500.0 195.0,518.8 200.6,531.9 202.5,545.0 200.6,554.4 189.4,556.2 180.0,549.7" fill="none" stroke="#1a1a1a" stroke-width="1.1" stroke-dasharray="1.4,4.6"/>
<polyline points="187.5,550.6 191.2,560.0 198.8,569.4 210.0,575.0 217.5,582.5 228.8,590.0 233.4,591.7 245.1,598.4 251.8,606.7 256.8,616.8 263.5,623.4 270.2,626.8 276.9,623.4" fill="none" stroke="#1a1a1a" stroke-width="1.1" stroke-dasharray="1.4,4.6"/>
<polyline points="211.9,578.8 221.2,588.1 230.0,601.7 240.0,611.7 250.1,621.8 256.8,628.5 265.2,635.2 271.8,634.3" fill="none" stroke="#1a1a1a" stroke-width="1.1" stroke-dasharray="1.4,4.6"/>
<polyline points="19.9,549.2 33.2,525.9 43.2,506.0 56.4,499.4 79.7,496.0" fill="none" stroke="#1a1a1a" stroke-width="1.1" stroke-dasharray="1.4,4.6"/>
<polyline points="86.3,542.5 99.6,535.9 119.5,525.9 129.5,516.0 136.1,499.4 142.8,479.4 146.1,476.1 166.0,479.4 179.3,482.8 189.2,479.4" fill="none" stroke="#1a1a1a" stroke-width="1.1" stroke-dasharray="1.4,4.6"/>
<polyline points="288.8,416.4 298.8,436.3 340.0,435.0" fill="none" stroke="#1a1a1a" stroke-width="1.1" stroke-dasharray="1.4,4.6"/>
<polyline points="196.0,496.0 199.2,525.0 202.5,549.8" fill="none" stroke="#1a1a1a" stroke-width="1.1" stroke-dasharray="1.4,4.6"/>
<polyline points="406.4,488.0 426.3,486.3 449.6,484.7 466.2,489.6 479.4,499.6 499.4,499.6 519.3,499.6" fill="none" stroke="#1a1a1a" stroke-width="1.1" stroke-dasharray="1.4,4.6"/>
<polyline points="525.9,499.6 539.2,493.0 549.2,489.6 552.5,506.2 565.8,519.5 592.3,522.8 612.2,522.8 632.2,509.6 652.1,502.9 680.0,493.0" fill="none" stroke="#1a1a1a" stroke-width="1.1" stroke-dasharray="1.4,4.6"/>
<polyline points="623.4,527.7 645.8,537.0 660.7,551.9 671.9,574.3 668.2,585.5 660.7,596.7 657.0,604.2 657.0,619.1 660.7,641.5 662.6,663.9 668.2,669.5 686.9,665.7 701.8,663.9 709.3,656.4 727.9,656.4 746.6,660.1 750.3,667.6 746.6,678.8" fill="none" stroke="#1a1a1a" stroke-width="1.1" stroke-dasharray="1.4,4.6"/>
<polyline points="502.7,572.6 512.6,579.3 519.3,599.2 522.6,615.8 532.6,632.4 539.2,642.0 555.0,650.0 575.0,660.0 590.0,662.0" fill="none" stroke="#1a1a1a" stroke-width="1.1" stroke-dasharray="1.4,4.6"/>
<polyline points="499.4,572.6 522.6,566.0 545.8,562.7 562.4,572.6 579.0,585.9 599.0,589.2 625.5,599.2 652.1,599.2 668.7,585.9" fill="none" stroke="#1a1a1a" stroke-width="1.1" stroke-dasharray="1.4,4.6"/>
<polyline points="393.7,336.2 399.2,339.0 404.7,340.4 410.2,337.6 415.7,336.2 419.8,338.3 418.4,343.1 414.3,345.8 410.2,345.8 406.1,348.6 404.7,354.1 403.3,359.6 408.8,360.9 415.7,360.2 421.2,359.6 426.0,356.1" fill="none" stroke="#1a1a1a" stroke-width="1.1" stroke-dasharray="1.4,4.6"/>
<polyline points="458.2,272.0 467.0,265.4 473.6,263.2 483.4,263.2 494.4,265.4 505.4,267.6 516.4,275.2 527.4,282.9 536.0,290.6 548.0,300.0 560.0,312.0" fill="none" stroke="#1a1a1a" stroke-width="1.1" stroke-dasharray="1.4,4.6"/>
<polyline points="483.4,272.0 479.0,283.0 481.2,294.0 487.8,303.8" fill="none" stroke="#1a1a1a" stroke-width="1.1" stroke-dasharray="1.4,4.6"/>
<polygon points="182.0,358.0 190.0,354.0 198.0,351.0 206.0,350.0 211.0,352.0 207.0,356.0 200.0,357.0 192.0,359.0 185.0,360.0" fill="#ffffff" stroke="#1a1a1a" stroke-width="0.5"/>
<polygon points="249.0,356.0 254.0,353.0 257.0,356.0 255.0,362.0 251.0,368.0 248.0,364.0" fill="#ffffff" stroke="#1a1a1a" stroke-width="0.5"/>
<polyline points="823.8,208.1 827.5,210.0 831.2,217.5 835.0,221.2 840.6,226.9 844.4,232.5 842.5,238.1 835.0,238.1 827.5,232.5 823.8,225.0 821.9,213.8 823.8,208.1" fill="none" stroke="#333" stroke-width="0.7"/>
<polyline points="834.0,257.0 840.0,254.5 846.0,258.0 849.0,263.0 844.0,267.0 837.0,265.0 834.0,257.0" fill="none" stroke="#333" stroke-width="0.7"/>
<polyline points="845.0,272.0 848.0,280.0 850.0,288.0 858.0,291.0 865.0,294.0 863.0,300.0 855.0,302.0 848.0,298.0 842.0,290.0 840.5,282.0 845.0,272.0" fill="none" stroke="#333" stroke-width="0.7"/>
<ellipse cx="846" cy="291" rx="3.5" ry="2.5" fill="#ffff00" stroke="#6a5acd" stroke-width="0.9"/>
<polyline points="925.3,21.0 929.6,27.8 932.2,31.2 935.3,38.8 937.4,46.6 939.0,54.4 942.0,60.6 948.4,63.8 954.6,62.2" fill="none" stroke="#111" stroke-width="0.8"/>
<polyline points="942.0,21.0 943.7,29.4 946.8,32.5 951.5,34.0 957.8,33.3 960.9,35.6 962.4,38.8 957.8,40.3" fill="none" stroke="#111" stroke-width="0.8"/>
<polyline points="1008.0,386.0 1012.0,383.0 1018.0,384.0 1024.0,387.0" fill="none" stroke="#222" stroke-width="0.8"/>
<polyline points="1008.0,392.0 1013.0,390.0 1019.0,393.0 1024.0,392.0" fill="none" stroke="#222" stroke-width="0.8"/>
<polyline points="883.9,307.2 892.9,319.3 902.0,322.3 914.1,316.3 929.2,310.2 941.3,308.7 953.4,319.3" fill="none" stroke="#1a1a1a" stroke-width="1.1" stroke-dasharray="1.4,4.6"/>
<polyline points="862.7,431.0 874.8,416.0 886.9,400.8 895.9,388.8 905.0,376.7 911.0,367.6" fill="none" stroke="#1a1a1a" stroke-width="1.1" stroke-dasharray="1.4,4.6"/>
<polyline points="995.6,292.0 1001.7,310.2 1004.7,325.3 1010.8,340.4 1016.8,358.5 1022.8,370.6" fill="none" stroke="#1a1a1a" stroke-width="1.1" stroke-dasharray="1.4,4.6"/>
<polyline points="893.0,320.0 896.0,335.0 905.0,345.0 915.0,343.0 925.0,338.0 933.0,342.0" fill="none" stroke="#1a1a1a" stroke-width="1.1" stroke-dasharray="1.4,4.6"/>
<polyline points="132.9,380.9 134.0,391.2 134.0,399.4 134.0,407.6 136.0,413.8 145.3,417.9 153.5,424.1 161.7,430.2 167.9,434.4" fill="none" stroke="#1a1a1a" stroke-width="1.1" stroke-dasharray="1.4,4.6"/>
<polyline points="147.3,374.7 149.4,380.9 149.4,391.2 153.5,397.3 149.4,401.4 141.2,405.6 135.0,411.7" fill="none" stroke="#1a1a1a" stroke-width="1.1" stroke-dasharray="1.4,4.6"/>
<polyline points="178.2,358.2 188.5,366.5 192.6,374.7 194.7,385.0 194.7,395.3 196.7,405.6 198.8,411.7" fill="none" stroke="#1a1a1a" stroke-width="1.1" stroke-dasharray="1.4,4.6"/>
<polyline points="196.7,378.8 207.0,376.7 217.3,372.6 219.3,362.3 217.3,354.1" fill="none" stroke="#1a1a1a" stroke-width="1.1" stroke-dasharray="1.4,4.6"/>
<polyline points="198.8,393.2 211.1,395.3 219.3,399.4 227.6,403.5 231.7,407.6" fill="none" stroke="#1a1a1a" stroke-width="1.1" stroke-dasharray="1.4,4.6"/>
<polyline points="80.0,497.0 100.0,481.7 116.5,469.3 132.9,457.0 147.3,448.8 161.7,440.5 178.2,430.2 194.7,420.0 207.0,415.8 215.2,411.7 223.5,401.4 227.6,391.2 231.7,385.0 235.8,376.7" fill="none" stroke="#1a1a1a" stroke-width="1.1" stroke-dasharray="1.4,4.6"/>
<polyline points="135.0,485.0 147.3,473.5 155.6,467.3 167.9,459.1 182.3,450.8 194.7,444.7 204.9,443.6" fill="none" stroke="#1a1a1a" stroke-width="1.1" stroke-dasharray="1.4,4.6"/>
<polyline points="141.2,492.0 161.7,492.0 186.4,492.0 200.0,492.0" fill="none" stroke="#666" stroke-width="1.1" stroke-dasharray="3,3"/>
<polyline points="143.2,477.6 153.5,479.6 167.9,481.7 186.4,479.6" fill="none" stroke="#1a1a1a" stroke-width="1.1" stroke-dasharray="1.4,4.6"/>
<polyline points="219.3,440.5 233.7,440.5 252.3,440.5" fill="none" stroke="#1a1a1a" stroke-width="1.1" stroke-dasharray="1.4,4.6"/>
<polyline points="252.3,417.9 252.3,440.5 252.3,463.2 250.2,481.7" fill="none" stroke="#1a1a1a" stroke-width="1.1" stroke-dasharray="1.4,4.6"/>
<polyline points="252.3,417.9 264.6,417.9 279.0,417.9 293.4,417.9" fill="none" stroke="#1a1a1a" stroke-width="1.1" stroke-dasharray="1.4,4.6"/>
<polyline points="211.1,461.1 219.3,469.3 227.6,475.5 239.9,481.7 250.2,481.7 258.0,479.6 268.0,477.6 278.0,475.5" fill="none" stroke="#1a1a1a" stroke-width="1.1" stroke-dasharray="1.4,4.6"/>
<polyline points="230.0,418.0 240.0,414.0 248.0,408.0 252.0,400.0 262.0,398.0 264.0,385.0 270.0,377.0" fill="none" stroke="#1a1a1a" stroke-width="1.1" stroke-dasharray="1.4,4.6"/>
<polyline points="564.7,116.2 567.5,110.6 572.2,106.9 574.1,109.7 571.2,112.5 567.5,118.1 571.2,123.8 578.8,127.5 588.1,128.4 591.9,130.3 586.2,132.2 580.6,133.1 576.9,129.4 569.4,124.7 564.7,120.9 564.7,116.2" fill="none" stroke="#777" stroke-width="0.7"/>
<polyline points="500.0,180.2 511.2,178.1 524.4,176.2 537.5,172.5 546.9,168.8 556.2,172.5 561.9,178.1 567.5,174.4 575.0,168.8 578.8,153.8" fill="none" stroke="#1a1a1a" stroke-width="1.1" stroke-dasharray="1.4,4.6"/>
<polyline points="563.8,131.2 565.6,138.8 569.4,146.2 575.0,151.9" fill="none" stroke="#1a1a1a" stroke-width="1.1" stroke-dasharray="1.4,4.6"/>
<polyline points="556.0,371.0 560.0,373.0 570.7,381.6 581.5,384.8 603.0,382.7 615.9,381.6 633.0,382.7 640.0,383.1" fill="none" stroke="#1a1a1a" stroke-width="1.1" stroke-dasharray="1.4,4.6"/>
<ellipse cx="287" cy="633.5" rx="15" ry="13" fill="none" stroke="#1a1a1a" stroke-width="1.1" stroke-dasharray="1.4,4.6"/>
<polyline points="754.0,678.8 765.2,693.7 783.9,698.0 802.5,700.5 817.7,701.0 823.2,693.5 828.7,684.0 842.5,677.5 856.3,671.4 867.3,663.2 878.3,657.7 905.9,654.9 908.7,649.4 905.9,638.3 900.4,630.1 892.1,621.8 889.4,610.8 894.9,599.7 908.7,588.7 914.2,580.4 903.2,572.1 905.9,563.9 917.0,555.6 922.5,541.8 933.5,528.0 947.5,512.5 970.0,490.0 996.2,475.0" fill="none" stroke="#1a1a1a" stroke-width="1.1" stroke-dasharray="1.4,4.6"/>
<polyline points="870.1,530.8 881.1,539.0 892.1,544.6 903.2,550.1 911.4,558.3 922.5,558.3 933.5,569.4 944.6,577.7 961.1,585.9 977.7,592.8 988.7,597.0 997.0,602.5 1008.0,602.5 1021.8,605.2" fill="none" stroke="#1a1a1a" stroke-width="1.1" stroke-dasharray="1.4,4.6"/>
<polyline points="867.3,569.4 878.3,574.9 892.1,580.4 900.4,577.7" fill="none" stroke="#1a1a1a" stroke-width="1.1" stroke-dasharray="1.4,4.6"/>
<polyline points="281.9,646.9 278.5,656.9 280.2,668.6 283.5,675.3 291.9,680.3 300.3,683.6 305.3,690.3 307.0,700.4 308.6,712.0" fill="none" stroke="#1a1a1a" stroke-width="1.1" stroke-dasharray="1.4,4.6"/>
<polyline points="291.9,645.2 288.6,655.2 288.6,665.3 291.9,671.9 300.3,675.3 305.3,680.3 307.0,683.6" fill="none" stroke="#1a1a1a" stroke-width="1.1" stroke-dasharray="1.4,4.6"/>
<polyline points="298.6,687.0 301.9,697.0 301.9,712.0" fill="none" stroke="#1a1a1a" stroke-width="1.1" stroke-dasharray="1.4,4.6"/>
<ellipse cx="259.5" cy="618.5" rx="2.5" ry="2.5" fill="#ffbe00" stroke="#6a5acd" stroke-width="0.9"/>
<polyline points="122.8,76.4 132.8,63.2 139.4,46.6 145.0,37.0 149.4,32.5 160.3,30.9 171.2,29.4 179.0,34.0 186.9,37.2 193.1,45.0 199.4,51.2 207.2,53.6 216.6,51.2 222.8,48.1 222.8,43.4" fill="none" stroke="#1a1a1a" stroke-width="1.1" stroke-dasharray="1.4,4.6"/>
<polyline points="140.0,76.0 143.1,71.6 146.2,66.1 150.9,61.4 158.8,59.0 168.1,57.5 177.5,59.8 186.9,59.8 194.7,58.3 198.6,54.4 207.2,53.6" fill="none" stroke="#1a1a1a" stroke-width="1.1" stroke-dasharray="1.4,4.6"/>
<polyline points="222.8,51.2 233.8,54.4 246.2,57.5 255.6,62.2 265.0,68.4 274.4,76.2 279.1,82.5 280.6,88.8 283.8,95.0 288.4,99.7 300.0,101.2 312.0,100.0" fill="none" stroke="#1a1a1a" stroke-width="1.1" stroke-dasharray="1.4,4.6"/>
<polyline points="279.1,87.2 286.9,82.5 293.1,76.2 298.0,70.0" fill="none" stroke="#1a1a1a" stroke-width="1.1" stroke-dasharray="1.4,4.6"/>
<polyline points="283.8,95.0 285.0,105.0 288.8,119.6" fill="none" stroke="#1a1a1a" stroke-width="1.1" stroke-dasharray="1.4,4.6"/>
<polyline points="450.9,264.5 452.2,271.3 453.6,276.8 453.6,282.3 455.0,286.4" fill="none" stroke="#1a1a1a" stroke-width="1.1" stroke-dasharray="1.4,4.6"/>
<polyline points="456.4,265.8 457.7,271.3 456.4,276.8 457.7,282.3" fill="none" stroke="#1a1a1a" stroke-width="1.1" stroke-dasharray="1.4,4.6"/>
<polygon points="1004.0,18.0 1008.0,23.5 1016.0,24.5 1027.0,23.0 1027.0,18.0" fill="#ffdc00" stroke="#6a5acd" stroke-width="0.9"/>
<polyline points="512.0,60.0 522.0,56.2 537.0,52.5 554.5,50.0 567.0,48.8 577.0,47.5 587.0,45.0 597.0,42.5 604.5,37.5" fill="none" stroke="#1a1a1a" stroke-width="1.1" stroke-dasharray="1.4,4.6"/>
<polyline points="534.5,42.5 537.0,35.0 544.5,30.0 547.0,25.0 544.5,21.2" fill="none" stroke="#1a1a1a" stroke-width="1.1" stroke-dasharray="1.4,4.6"/>
<polyline points="534.5,42.5 542.0,45.0 554.5,47.5 557.0,57.5 559.5,70.0" fill="none" stroke="#1a1a1a" stroke-width="1.1" stroke-dasharray="1.4,4.6"/>
<polyline points="617.0,22.5 632.0,22.5 647.0,25.0 657.0,32.5 662.0,45.0 664.5,55.0 672.0,65.0 677.0,72.5" fill="none" stroke="#1a1a1a" stroke-width="1.1" stroke-dasharray="1.4,4.6"/>
<polyline points="664.5,50.0 672.0,45.0 687.0,37.5 692.0,33.8" fill="none" stroke="#1a1a1a" stroke-width="1.1" stroke-dasharray="1.4,4.6"/>
<polyline points="727.0,27.5 737.0,35.0 747.0,42.5 754.5,47.5 752.0,52.5 754.5,60.0" fill="none" stroke="#1a1a1a" stroke-width="1.1" stroke-dasharray="1.4,4.6"/>
<polyline points="490.0,60.0 500.0,64.0 512.0,75.0 522.0,80.0 532.0,85.0" fill="none" stroke="#1a1a1a" stroke-width="1.1" stroke-dasharray="1.4,4.6"/>
<polyline points="594.5,85.0 597.0,95.0 592.0,105.0" fill="none" stroke="#1a1a1a" stroke-width="1.1" stroke-dasharray="1.4,4.6"/>
<polyline points="637.0,87.5 647.0,95.0 654.5,102.5 657.0,110.0" fill="none" stroke="#1a1a1a" stroke-width="1.1" stroke-dasharray="1.4,4.6"/>
<polyline points="283.0,436.0 300.0,434.2 320.6,436.2 341.2,439.3 361.7,445.5 382.3,453.7 398.8,455.8" fill="none" stroke="#1a1a1a" stroke-width="1.1" stroke-dasharray="1.4,4.6"/>
<ellipse cx="520" cy="454" rx="4.5" ry="3" fill="#ffdead" stroke="#6a5acd" stroke-width="0.9"/>
<polygon points="514.0,468.0 517.0,469.0 518.0,476.0 517.5,485.0 516.0,486.0 515.0,478.0" fill="#ffffff" stroke="#555" stroke-width="0.6"/>
</g>
<g stroke="#888" stroke-width="1.1" stroke-dasharray="1.5,4.4" fill="none">
<line x1="0" y1="21.5" x2="1024" y2="21.5"/><line x1="0" y1="711.4" x2="1024" y2="711.4"/>
<line x1="0.6" y1="21" x2="0.6" y2="712"/><line x1="1023.4" y1="21" x2="1023.4" y2="712"/></g>
</svg>
</body></html>
